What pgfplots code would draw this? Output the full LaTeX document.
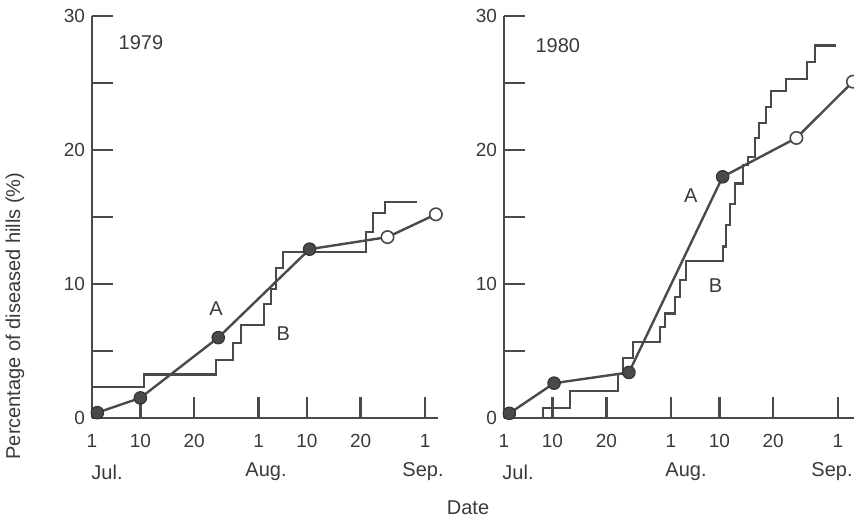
\documentclass[border=0pt]{standalone}
\usepackage{pgfplots}
\pgfplotsset{compat=1.18}
\usepackage{fontspec}
\setmainfont{Liberation Sans}
\definecolor{ink}{HTML}{4A4A4A}
\definecolor{txt}{HTML}{3A3A3A}
\tikzset{lab/.style={font=\fontsize{10}{12}\selectfont, text=txt}}
\begin{document}
\begin{tikzpicture}
\useasboundingbox (0pt,0pt) rectangle (427pt,-260pt);
\pgfplotsset{
 panel/.style={
  scale only axis, anchor=south west, height=201pt,
  ymin=0, ymax=30, xmin=0,
  axis x line*=bottom, axis y line*=left,
  xtick pos=bottom, ytick pos=left,
  axis line style={ink, line width=1.4pt},
  tick style={ink, line width=1.2pt},
  tick align=inside, major tick length=10.5pt,
  xtick={0,9,19,31,40,50,62}, xticklabels={1,10,20,1,10,20,1},
  ytick={0,5,...,30}, yticklabels={0,,10,,20,,30},
  tick label style={font=\fontsize{9.5}{11}\selectfont, text=txt},
  xticklabel style={yshift=-4.5pt},
  /pgf/number format/assume math mode=true,
 },
 lineA/.style={ink, line width=1.2pt, mark=none},
 lineB/.style={ink, line width=1.05pt, const plot, mark=none},
 filled/.style={only marks, mark=*, mark size=3.1pt, mark options={fill=ink, draw=ink!70!black, line width=0.6pt}},
 open/.style={only marks, mark=*, mark size=3.1pt, mark options={fill=white, draw=ink, line width=0.8pt}},
}
% ---------------- 1979 ----------------
\begin{axis}[panel, at={(46pt,-209pt)}, width=173pt, xmax=64.4, clip=false]
\addplot[lineB] coordinates {(0,2.3) (9.6,3.25) (23.1,4.35) (26.2,5.6) (27.7,6.95) (32,8.5) (33.3,9.6) (34.2,11.2) (35.6,12.4) (51,13.9) (52.3,15.3) (54.6,16.15) (60.5,16.15)};
\addplot[lineA] coordinates {(1,0.4) (9,1.5) (23.5,6.0) (40.5,12.6) (55,13.5) (64,15.2)};
\addplot[filled] coordinates {(1,0.4) (9,1.5) (23.5,6.0) (40.5,12.6)};
\addplot[open] coordinates {(55,13.5) (64,15.2)};
\node[lab] at (axis cs:9.1,28) {1979};
\node[lab] at (axis cs:23.1,8.2) {A};
\node[lab] at (axis cs:35.6,6.3) {B};
\end{axis}
% ---------------- 1980 ----------------
\begin{axis}[panel, at={(252pt,-209pt)}, width=175pt, xmax=65]
\addplot[lineB] coordinates {(7.3,0) (7.3,0.75) (12.2,2.0) (21.2,3.3) (22.1,4.45) (24.0,5.7) (28.9,6.8) (29.9,7.8) (31.7,9.05) (32.7,10.3) (33.8,11.7) (40.7,12.8) (41.3,14.4) (41.9,16.0) (42.9,17.5) (44.4,18.9) (45.3,19.5) (46.6,20.9) (47.4,22.0) (48.6,23.2) (49.6,24.4) (52.3,25.3) (56.2,26.6) (57.7,27.8) (61.7,27.8)};
\addplot[lineA] coordinates {(1,0.35) (9.3,2.6) (23.2,3.4) (40.6,18.0) (54.3,20.9) (64.8,25.1)};
\addplot[filled] coordinates {(1,0.35) (9.3,2.6) (23.2,3.4) (40.6,18.0)};
\addplot[open] coordinates {(54.3,20.9) (64.8,25.1)};
\node[lab] at (axis cs:10,27.8) {1980};
\node[lab] at (axis cs:34.7,16.6) {A};
\node[lab] at (axis cs:39.3,9.9) {B};
\end{axis}
% ---------------- outer labels ----------------
\begin{scope}[every node/.style={font=\fontsize{10}{12}\selectfont, text=txt}]
\node at (53.5pt,-236pt) {Jul.};
\node at (133pt,-236pt) {Aug.};
\node at (211.5pt,-236pt) {Sep.};
\node at (259pt,-236pt) {Jul.};
\node at (343pt,-236pt) {Aug.};
\node[anchor=east, inner sep=0.5pt] at (427pt,-236pt) {Sep.};
\node at (234pt,-254pt) {Date};
\node[rotate=90] at (7.5pt,-158pt) {Percentage of diseased hills (\%)};
\end{scope}
\end{tikzpicture}
\end{document}
